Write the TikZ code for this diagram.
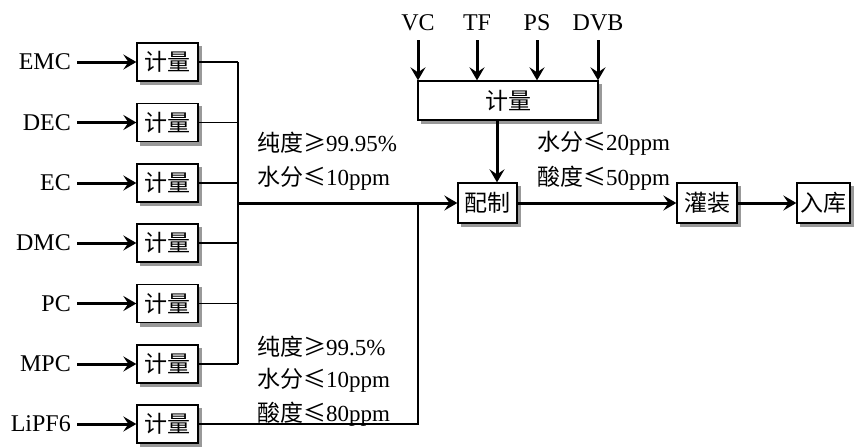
\documentclass[tikz,border=0pt]{standalone}
\usepackage{fontspec}
\setmainfont{Liberation Serif}
\newfontfamily\cjk{Noto Sans CJK SC}
\usetikzlibrary{arrows.meta,backgrounds}
\newcommand\zh[1]{{\cjk #1}}
\begin{document}
\begin{tikzpicture}[x=1pt,y=-1pt,
  box/.style={draw,line width=1.3pt,fill=white,inner sep=0pt,minimum height=38pt,
    font=\fontsize{23}{28}\selectfont\cjk},
  shd/.style={fill=black!40},
  lbl/.style={font=\fontsize{24}{28}\selectfont,inner sep=0pt},
  spec/.style={font=\fontsize{23}{28}\selectfont,inner sep=0pt,anchor=west},
  thk/.style={line width=3pt,-{Stealth[length=13pt,width=15pt,inset=5pt]}},
  thn/.style={line width=1.3pt}]
\useasboundingbox (0,0) rectangle (858,447);
% left metering boxes
\foreach \n/\t/\y in {1/EMC/62,2/DEC/122.5,3/EC/183,4/DMC/243,5/PC/303.5,6/MPC/364,7/LiPF6/424}{
  \node[box,minimum width=61pt] (m\n) at (167.5,\y) {计量};
  \node[lbl,anchor=east] (s\n) at (71,\y) {\t};
  \draw[thk] ([xshift=6pt]s\n.east) -- (m\n.west);
}
\coordinate (bus) at (238,0);
\coordinate (li) at (418,0);
\coordinate (tap) at (497,0);
% process boxes
\node[box,minimum width=59pt,minimum height=40pt] (mix) at (487.5,203) {配制};
\node[box,minimum width=60pt,minimum height=40pt] (fil) at (707,203) {灌装};
\node[box,minimum width=53pt,minimum height=40pt] (sto) at (823.5,203) {入库};
\node[box,minimum width=180pt,minimum height=39pt] (top) at (508,100.5) {计量};
% shadows
\begin{scope}[on background layer]
\foreach \b in {m1,m2,m3,m4,m5,m6,m7,mix,fil,sto,top}{
  \fill[shd] ([xshift=3.5pt,yshift=-3.5pt]\b.south west) rectangle ([xshift=3.5pt,yshift=-3.5pt]\b.north east);
}
\end{scope}
% collector
\foreach \n in {1,...,6}{\draw[thn] (m\n.east) -- (m\n.east -| bus);}
\draw[thn] (m1.east -| bus) -- (m6.east -| bus);
\draw[thk] (bus |- mix) -- (mix.west);
\draw[thn] (m7.east) -| (li |- mix);
\draw[thk] (top.south -| tap) -- (mix.north -| tap);
\draw[thk] (mix.east) -- (fil.west);
\draw[thk] (fil.east) -- (sto.west);
% additives
\foreach \n/\t/\x in {a/VC/418,b/TF/477,c/PS/537,d/DVB/598}{
  \node[lbl,anchor=base] (\n) at (\x,30) {\t};
  \draw[thk] ([yshift=-10pt]\n.base) -- (\n.base |- top.north);
}
% specs
\node[spec] (p1) at (257,143) {\zh{纯度≥}99.95\%};
\node[spec] (p2) at (257,178) {\zh{水分≤}10ppm};
\node[spec] (q1) at (537,143) {\zh{水分≤}20ppm};
\node[spec] (q2) at (537,178) {\zh{酸度≤}50ppm};
\node[spec] (r1) at (257,347) {\zh{纯度≥}99.5\%};
\node[spec] (r2) at (257,380) {\zh{水分≤}10ppm};
\node[spec] (r3) at (257,414) {\zh{酸度≤}80ppm};
\end{tikzpicture}
\end{document}
